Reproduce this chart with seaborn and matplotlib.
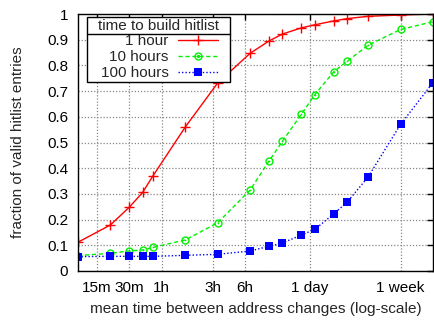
import numpy as np
import pandas as pd
import matplotlib
matplotlib.use("Agg")
import matplotlib.pyplot as plt
import seaborn as sns
from matplotlib.lines import Line2D
from matplotlib.legend_handler import HandlerTuple
from matplotlib.offsetbox import DrawingArea

# data: x in minutes (mean time between address changes)
minutes = [10, 20, 30, 40, 50, 100, 200, 400, 600, 800, 1200, 1600, 2400, 3200, 5000, 10080, 20160]
hour1 = [0.112, 0.179, 0.248, 0.306, 0.371, 0.561, 0.732, 0.847, 0.895, 0.922, 0.946, 0.958,
         0.973, 0.982, 0.991, 0.996, 1.0]
hour10 = [0.060, 0.069, 0.078, 0.082, 0.092, 0.121, 0.188, 0.315, 0.428, 0.505, 0.610, 0.686,
          0.775, 0.816, 0.878, 0.940, 0.970]
hour100 = [0.056, 0.057, 0.057, 0.057, 0.057, 0.061, 0.065, 0.078, 0.096, 0.109, 0.140, 0.162,
           0.222, 0.268, 0.365, 0.571, 0.733]
series_names = ["1 hour", "10 hours", "100 hours"]
legend_title = "time to build hitlist"
xtick_vals = [15, 30, 60, 180, 360, 1440, 10080]
xtick_labels = ["15m", "30m", "1h", "3h", "6h", "1 day", "1 week"]
ytick_vals = [0, 0.1, 0.2, 0.3, 0.4, 0.5, 0.6, 0.7, 0.8, 0.9, 1.0]
ytick_labels = ["0", "0.1", "0.2", "0.3", "0.4", "0.5", "0.6", "0.7", "0.8", "0.9", "1"]

FS = 11
sns.set_style("white")
plt.rcParams["font.family"] = ["Liberation Sans", "DejaVu Sans"]
plt.rcParams["font.size"] = FS

RED, GREEN, BLUE = "#ff0000", "#00f000", "#0000ff"
DASH = (0, (3, 2))
DOT = (0, (1, 1.5))

fig = plt.figure(figsize=(4.34, 3.23), dpi=100)
ax = fig.add_axes([78 / 434, 1 - 271 / 323, 355 / 434, 257 / 323])

df = pd.DataFrame({"x": minutes, "a": hour1, "b": hour10, "c": hour100})

sns.lineplot(data=df, x="x", y="a", ax=ax, color=RED, linestyle="-", linewidth=1.0,
             marker="+", markersize=6.5, markeredgewidth=1.0, markeredgecolor=RED)
sns.lineplot(data=df, x="x", y="b", ax=ax, color=GREEN, linestyle=DASH, linewidth=1.0,
             marker="o", markersize=5, markerfacecolor="none", markeredgewidth=1.0,
             markeredgecolor=GREEN)
sns.scatterplot(data=df, x="x", y="b", ax=ax, color=GREEN, marker="o", s=1.5, linewidth=0)
sns.lineplot(data=df, x="x", y="c", ax=ax, color=BLUE, linestyle=DOT, linewidth=1.0,
             marker="s", markersize=5.2, markeredgewidth=0, markerfacecolor=BLUE)

ax.set_xscale("log")
ax.set_xlim(10, 20160)
ax.set_ylim(0, 1)
ax.set_xticks(xtick_vals)
ax.set_xticklabels(xtick_labels)
ax.xaxis.set_minor_locator(matplotlib.ticker.NullLocator())
ax.set_yticks(ytick_vals)
ax.set_yticklabels(ytick_labels)
ax.tick_params(direction="in", length=4, width=1, top=True, right=True, pad=7, labelsize=FS,
               colors="black")
ax.grid(True, linestyle=DOT, color="#888888", linewidth=0.9)
for s in ax.spines.values():
    s.set_color("black")
    s.set_linewidth(1.0)

ax.set_xlabel("mean time between address changes (log-scale)", fontsize=11.1, labelpad=5)
ax.set_ylabel("fraction of valid hitlist entries", fontsize=FS)
ax.yaxis.set_label_coords(-0.149, 0.5)

h1 = Line2D([], [], color=RED, linestyle="-", linewidth=1.0, marker="+", markersize=6.5)
h2a = Line2D([], [], color=GREEN, linestyle=DASH, linewidth=1.0, marker="o",
             markersize=5, markerfacecolor="none")
h2b = Line2D([], [], color=GREEN, linestyle="none", marker="o", markersize=1.3)
h3 = Line2D([], [], color=BLUE, linestyle=DOT, linewidth=1.0, marker="s",
            markersize=5.2, markeredgewidth=0)
leg = ax.legend([h1, (h2a, h2b), h3], series_names, title=legend_title, loc="upper left",
                bbox_to_anchor=(9 / 355, 254 / 257), borderaxespad=0, markerfirst=False,
                handlelength=2.6, handletextpad=0.65, labelspacing=0.12, borderpad=0.1,
                fancybox=False, framealpha=1, edgecolor="black", fontsize=FS,
                title_fontsize=FS, handler_map={tuple: HandlerTuple(ndivide=1)})
leg.get_frame().set_linewidth(1.0)
# gnuplot-like horizontal padding around the legend entries
for col in leg._legend_handle_box.get_children():
    for item in col.get_children():
        kids = item.get_children()
        kids.insert(0, DrawingArea(1.5, 0))
        kids.append(DrawingArea(0.5, 0))

fig.canvas.draw()
r = fig.canvas.get_renderer()
fb = leg.get_frame().get_window_extent(r)
tb = leg.get_title().get_window_extent(r)
ysep = tb.y0 - 1
inv = fig.transFigure.inverted()
(x0, y0) = inv.transform((fb.x0, ysep))
(x1, _) = inv.transform((fb.x1, ysep))
fig.add_artist(Line2D([x0, x1], [y0, y0], color="black", linewidth=1.0))

fig.savefig("out.png", dpi=100)
